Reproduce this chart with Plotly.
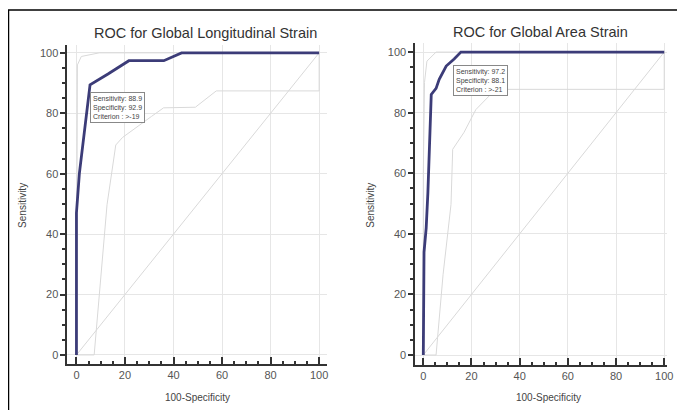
import plotly.graph_objects as go

# ---- data ----
gls_x = [0, 0, 1.2, 2.6, 5.6, 13, 21.6, 36, 43.3, 100]
gls_y = [0, 47, 60, 69.5, 89.4, 93, 97.4, 97.4, 100, 100]
gls_up_x = [0, 0.4, 0.4, 2, 9.4, 100]
gls_up_y = [0, 60, 96, 98.8, 100, 100]
gls_lo_x = [0, 7.3, 12.6, 16.2, 19, 24, 31, 35.9, 49, 57.6, 100, 100]
gls_lo_y = [0, 0, 49.7, 69.5, 72, 75, 79, 81.8, 82, 87.4, 87.4, 100]

gas_x = [0, 0, 0.3, 1.2, 1.9, 3.3, 5.3, 6.6, 9.5, 12.8, 15.6, 100]
gas_y = [0, 30, 34, 42, 53.6, 86, 88, 91, 95.4, 97.7, 100, 100]
gas_up_x = [0, 0, 0.5, 1.5, 5.3, 100]
gas_up_y = [0, 60, 90, 97, 100, 100]
gas_lo_x = [0, 5.3, 8.2, 11.5, 12.2, 16.9, 21.8, 28.7, 30, 100, 100]
gas_lo_y = [0, 0, 26.5, 49.7, 67.9, 73.5, 81, 86.7, 87.7, 87.7, 100]

diag = [0, 100]
tick_vals = [0, 20, 40, 60, 80, 100]

titles = ["ROC for Global Longitudinal Strain", "ROC for Global Area Strain"]
box_texts = ["Sensitivity: 88.9<br>Specificity: 92.9<br>Criterion : >-19",
             "Sensitivity: 97.2<br>Specificity: 88.1<br>Criterion : >-21"]
box_pos = [(5.7, 87.1), (12.3, 95.7)]

MAIN = "#3c3c78"
LIGHT = "#d9d9d9"
FONT = "Arial, Liberation Sans, sans-serif"

# page body has an 8px margin, so the figure is placed at (8, 8)
OFF = 8.0
W, H = 677.0, 402.0

def fx(x):
    return (x - OFF) / W

def fy(y):
    return 1 - (y - OFF) / H

fig = go.Figure()

def add_panel(xs, ys, ux, uy, lx, ly, xa, ya):
    for a, b in [(diag, diag), (ux, uy), (lx, ly)]:
        fig.add_trace(go.Scatter(x=a, y=b, mode="lines", line=dict(color=LIGHT, width=1),
                                 xaxis=xa, yaxis=ya, showlegend=False, hoverinfo="skip"))
    fig.add_trace(go.Scatter(x=xs, y=ys, mode="lines", line=dict(color=MAIN, width=2.8),
                             xaxis=xa, yaxis=ya, showlegend=False))

add_panel(gls_x, gls_y, gls_up_x, gls_up_y, gls_lo_x, gls_lo_y, "x", "y")
add_panel(gas_x, gas_y, gas_up_x, gas_up_y, gas_lo_x, gas_lo_y, "x2", "y2")

ax_common = dict(showline=True, linecolor="#333333", linewidth=2, mirror=False,
                 tickvals=tick_vals, showgrid=True, gridcolor="#e6e6e6", gridwidth=1,
                 zeroline=False, tickfont=dict(family=FONT, size=11, color="#555555"),
                 tickcolor="#333333", tickwidth=1.5, fixedrange=True)

def minor(t):
    return dict(dtick=5, tick0=0, ticks=t, ticklen=3, showgrid=False, tickcolor="#333333")

fig.update_layout(
    width=W, height=H,
    margin=dict(l=0, r=0, t=0, b=0),
    paper_bgcolor="white", plot_bgcolor="white",
    xaxis=dict(domain=[fx(68), fx(330)], range=[-3.7, 103.3], anchor="y",
               ticks="inside", ticklen=7, minor=minor("inside"), **ax_common),
    yaxis=dict(domain=[fy(364), fy(45)], range=[-3.0, 102.6], anchor="x",
               ticks="outside", ticklen=5, minor=minor("outside"), **ax_common),
    xaxis2=dict(domain=[fx(419), fx(673)], range=[-3.3, 101.2], anchor="y2",
                ticks="inside", ticklen=7, minor=minor("inside"), **ax_common),
    yaxis2=dict(domain=[fy(365), fy(43)], range=[-3.3, 103.0], anchor="x2",
                ticks="outside", ticklen=5, minor=minor("outside"), **ax_common),
)

annots = []
for (cx, cy), t in zip([(207, 33), (545, 32)], titles):
    annots.append(dict(x=fx(cx), y=fy(cy), xref="paper", yref="paper", text=t, showarrow=False,
                       xanchor="center", yanchor="middle",
                       font=dict(family=FONT, size=14.5, color="#333333")))
for (cx, cy) in [(22, 205), (373, 205)]:
    annots.append(dict(x=fx(cx), y=fy(cy), xref="paper", yref="paper", text="Sensitivity",
                       showarrow=False, textangle=-90, xanchor="center", yanchor="middle",
                       font=dict(family=FONT, size=10, color="#444444")))
for (cx, cy) in [(199, 397), (553, 397)]:
    annots.append(dict(x=fx(cx), y=fy(cy), xref="paper", yref="paper", text="100-Specificity",
                       showarrow=False, xanchor="center", yanchor="middle",
                       font=dict(family=FONT, size=10, color="#444444")))
for (bx, by), t, (xr, yr) in zip(box_pos, box_texts, [("x", "y"), ("x2", "y2")]):
    annots.append(dict(x=bx, y=by, xref=xr, yref=yr, text=t, showarrow=False, align="left",
                       xanchor="left", yanchor="top", bgcolor="white", bordercolor="#888888",
                       borderwidth=1, borderpad=2,
                       font=dict(family=FONT, size=7, color="#444444")))
fig.update_layout(annotations=annots)

# outer frame (top and left lines)
fig.add_shape(type="line", xref="paper", yref="paper", x0=fx(8), x1=1, y0=fy(10), y1=fy(10),
              line=dict(color="black", width=1.5))
fig.add_shape(type="line", xref="paper", yref="paper", x0=fx(8.5), x1=fx(8.5), y0=0, y1=fy(10),
              line=dict(color="black", width=1.5))

fig.write_html("out.html")
